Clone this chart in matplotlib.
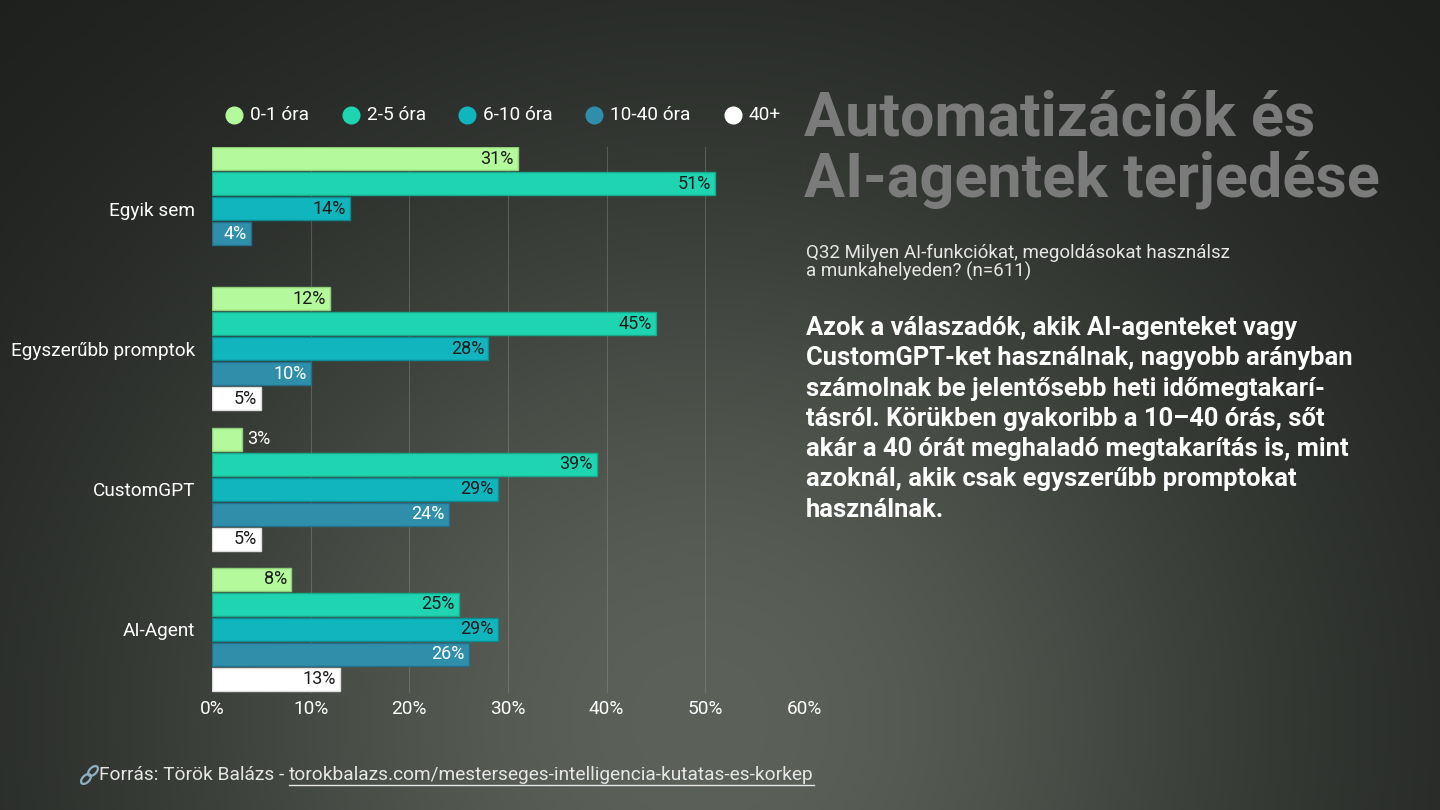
import numpy as np
import matplotlib.pyplot as plt
from matplotlib.lines import Line2D
from matplotlib.patches import Ellipse

# Data
groups = ['Egyik sem', 'Egyszerűbb promptok', 'CustomGPT', 'AI-Agent']
series = ['0-1 óra', '2-5 óra', '6-10 óra', '10-40 óra', '40+']
values = {
    '0-1 óra':   [31, 12, 3, 8],
    '2-5 óra':   [51, 45, 39, 25],
    '6-10 óra':  [14, 28, 29, 29],
    '10-40 óra': [4, 10, 24, 26],
    '40+':       [0, 5, 5, 13],
}
xticks = [0, 10, 20, 30, 40, 50, 60]

colors = ['#b4f99b', '#1fd4b1', '#10b5bd', '#2f8fab', '#ffffff']
edges = ['#8fcf7a', '#17a98d', '#0b8c93', '#24708a', '#dddddd']
label_colors = ['#1c1c1c', '#1c1c1c', '#1c1c1c', '#ffffff', '#1c1c1c']

plt.rcParams['font.family'] = ['Roboto', 'DejaVu Sans']

W, H = 1440, 810
fig = plt.figure(figsize=(14.4, 8.1), dpi=100)

# background gradient
bg = fig.add_axes([0, 0, 1, 1], zorder=-10)
yy, xx = np.mgrid[0:H, 0:W]
t = np.exp(-(((xx - 700) / 620.0) ** 2 + ((yy - 720) / 600.0) ** 2))
c0 = np.array([0.10, 0.11, 0.10])
c1 = np.array([0.36, 0.38, 0.35])
img = c0 + (c1 - c0) * t[..., None]
bg.imshow(img, aspect='auto', extent=[0, W, H, 0])
bg.set_axis_off()

# main chart
ax = fig.add_axes([212 / W, 1 - 693 / H, 592 / W, 546 / H])
ax.patch.set_alpha(0)

slot = 1.0
group_gap = 5.6
bar_h = 0.92
for j, s in enumerate(series):
    ys = [i * group_gap + j * slot for i in range(len(groups))]
    vals = values[s]
    keep = [(y, v) for y, v in zip(ys, vals) if v > 0]
    ax.barh([k[0] for k in keep], [k[1] for k in keep], height=bar_h, color=colors[j],
            edgecolor=edges[j], linewidth=1, zorder=3)
    for y, v in keep:
        if v < 4:
            ax.annotate(f'{v}%', (v, y), xytext=(4, 0), textcoords='offset points',
                        ha='left', va='center', color='white', fontsize=13, zorder=4)
        else:
            ax.annotate(f'{v}%', (v, y), xytext=(-3, 0), textcoords='offset points',
                        ha='right', va='center', color=label_colors[j], fontsize=13, zorder=4)

centers = [i * group_gap + 2 * slot for i in range(len(groups))]
ax.set_yticks(centers)
ax.set_yticklabels(groups)
ax.set_ylim(3 * group_gap + 4 * slot + 0.54, -0.46)
ax.set_xlim(0, 60)
ax.set_xticks(xticks)
ax.set_xticklabels([f'{x}%' for x in xticks])
ax.tick_params(axis='both', length=0, colors='white', labelsize=13.7)
ax.tick_params(axis='y', pad=12)
ax.tick_params(axis='x', pad=5)
for sp in ax.spines.values():
    sp.set_visible(False)
for x in xticks[1:]:
    ax.axvline(x, color='#9aa09a', linewidth=0.8, alpha=0.35, zorder=1)

# legend (manual)
leg_x = [234, 351, 467, 594, 733]
for j, s in enumerate(series):
    fig.add_artist(Line2D([leg_x[j] / W], [1 - 115 / H], marker='o', markersize=12,
                          color=colors[j], linestyle='none', transform=fig.transFigure))
    fig.text((leg_x[j] + 16) / W, 1 - 115 / H, s, color='white', fontsize=13.7,
             ha='left', va='center')

# titles
fig.text(804 / W, 1 - 89 / H, 'Automatizációk és\nAI-agentek terjedése', color='#7b7b7b',
         fontsize=44, fontweight='bold', ha='left', va='top', linespacing=1.07)
fig.text(806 / W, 1 - 244 / H,
         'Q32 Milyen AI-funkciókat, megoldásokat használsz\na munkahelyeden? (n=611)',
         color='#e6e6e6', fontsize=13.5, ha='left', va='top', linespacing=0.95)
body = ('Azok a válaszadók, akik AI-agenteket vagy\n'
        'CustomGPT-ket használnak, nagyobb arányban\n'
        'számolnak be jelentősebb heti időmegtakarí-\n'
        'tásról. Körükben gyakoribb a 10–40 órás, sőt\n'
        'akár a 40 órát meghaladó megtakarítás is, mint\n'
        'azoknál, akik csak egyszerűbb promptokat\n'
        'használnak.')
fig.text(806 / W, 1 - 316 / H, body, color='white', fontsize=18.4, fontweight='bold',
         ha='left', va='top', linespacing=1.33)

# footer
fig.add_artist(Ellipse((86 / 100, (H - 779) / 100), 0.07, 0.12, angle=-45, fill=False,
                       edgecolor='#8fb0c4', linewidth=1.6, transform=fig.dpi_scale_trans))
fig.add_artist(Ellipse((93 / 100, (H - 771) / 100), 0.07, 0.12, angle=-45, fill=False,
                       edgecolor='#8fb0c4', linewidth=1.6, transform=fig.dpi_scale_trans))
t1 = fig.text(99 / W, 1 - 775 / H, 'Forrás: Török Balázs - ', color='#e6e6e6',
              fontsize=13.8, ha='left', va='center')
fig.canvas.draw()
bb = t1.get_window_extent()
link = 'torokbalazs.com/mesterseges-intelligencia-kutatas-es-korkep'
t2 = fig.text(bb.x1 / W, 1 - 775 / H, link, color='#e6e6e6', fontsize=13.8,
              ha='left', va='center')
fig.canvas.draw()
bb2 = t2.get_window_extent()
fig.add_artist(Line2D([bb2.x0 / W, bb2.x1 / W], [(bb2.y0 - 1) / H] * 2, color='#e6e6e6',
                      linewidth=1, transform=fig.transFigure))

fig.savefig('out.png', dpi=100)
